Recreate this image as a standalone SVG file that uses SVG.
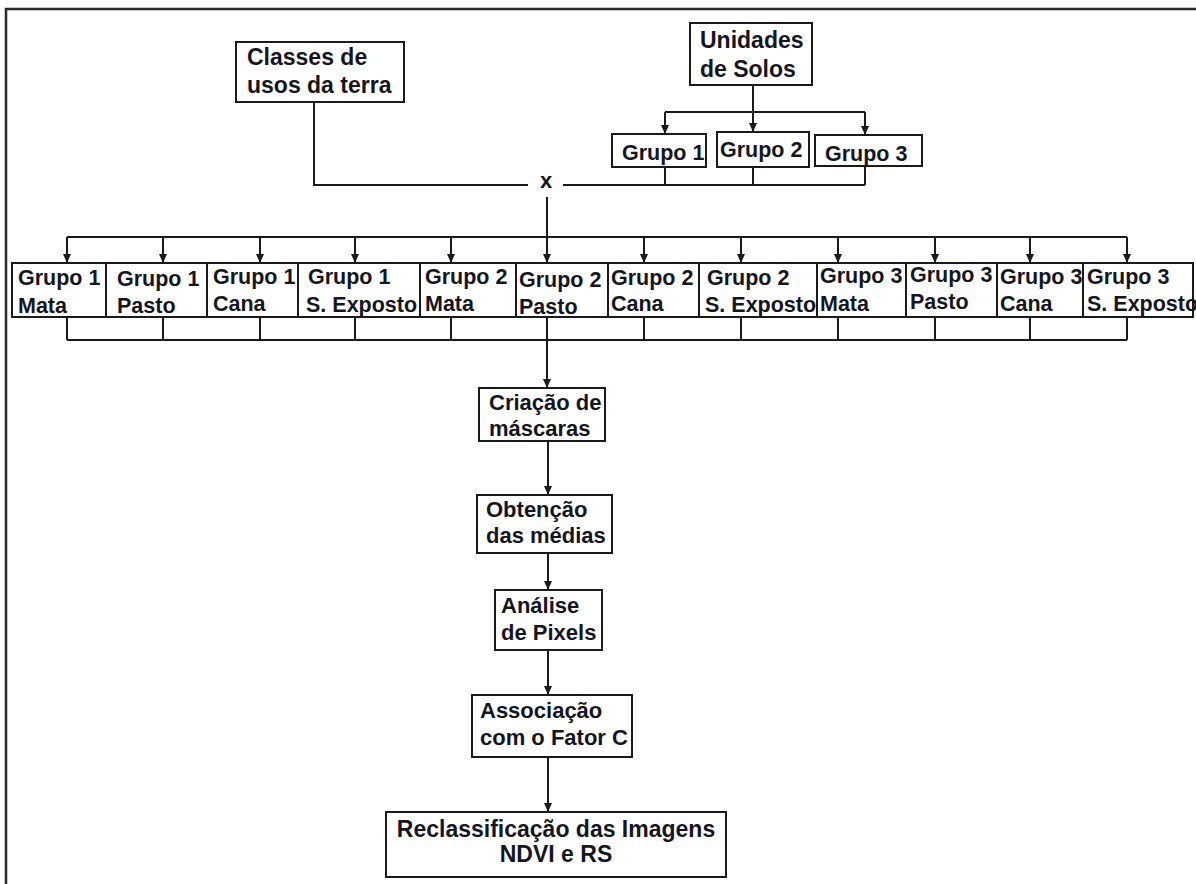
<svg xmlns="http://www.w3.org/2000/svg" width="1196" height="884" viewBox="0 0 1196 884">
<defs>
<marker id="ah" markerUnits="userSpaceOnUse" markerWidth="9" markerHeight="8" refX="9" refY="4" orient="auto">
<path d="M0,0 L9,4 L0,8 z" fill="#1a1a1a"/>
</marker>
<style>
.box{fill:#fff;stroke:#1a1a1a;stroke-width:2}
.t{font-family:"Liberation Sans",Arial,sans-serif;font-weight:bold;font-size:22px;fill:#151520}
.s{font-size:21.5px}
.b{font-size:23px}
.ln{fill:none;stroke:#1a1a1a;stroke-width:2}
.ar{fill:none;stroke:#1a1a1a;stroke-width:2;marker-end:url(#ah)}
</style>
</defs>
<rect x="0" y="0" width="1196" height="884" fill="#fff"/>
<path d="M6,884 V9 H1196" fill="none" stroke="#2a2a2a" stroke-width="2.5"/>

<g id="connectors">
<path class="ln" d="M314,102 V185 H528"/>
<path class="ln" d="M563,185 H865"/>
<path class="ln" d="M753,85 V112"/>
<path class="ln" d="M665,112 H865"/>
<path class="ar" d="M665,112 V134"/>
<path class="ar" d="M753,112 V132"/>
<path class="ar" d="M865,112 V135"/>
<path class="ln" d="M665,167 V185 M753,167 V185 M865,166 V185"/>
<path class="ln" d="M547,197 V237 M67,237 H1127"/>
<path class="ar" d="M67,237 V263"/>
<path class="ar" d="M163,237 V263"/>
<path class="ar" d="M260,237 V263"/>
<path class="ar" d="M355,237 V263"/>
<path class="ar" d="M451,237 V263"/>
<path class="ar" d="M547,237 V263"/>
<path class="ar" d="M644,237 V263"/>
<path class="ar" d="M741,237 V263"/>
<path class="ar" d="M838,237 V263"/>
<path class="ar" d="M935,237 V263"/>
<path class="ar" d="M1030,237 V263"/>
<path class="ar" d="M1127,237 V263"/>
<path class="ln" d="M67,317 V340 M163,317 V340 M260,317 V340 M355,317 V340 M451,317 V340 M547,317 V340 M644,317 V340 M741,317 V340 M838,317 V340 M935,317 V340 M1030,317 V340 M1127,317 V340 M67,340 H1127"/>
<path class="ar" d="M547,340 V388"/>
<path class="ar" d="M548,441 V495"/>
<path class="ar" d="M548,553 V590"/>
<path class="ar" d="M548,650 V695"/>
<path class="ar" d="M548,757 V812"/>
</g>

<text class="t" x="540" y="188">x</text>

<g id="classes">
<rect class="box" x="236" y="42" width="168" height="60"/>
<text class="t b" x="247" y="65">Classes de</text>
<text class="t b" x="247" y="93">usos da terra</text>
</g>
<g id="unidades">
<rect class="box" x="690" y="23" width="122" height="62"/>
<text class="t b" x="700" y="48">Unidades</text>
<text class="t b" x="700" y="77">de Solos</text>
</g>
<g id="g1">
<rect class="box" x="612" y="134" width="94" height="33"/>
<text class="t s" x="622" y="160">Grupo 1</text>
</g>
<g id="g2">
<rect class="box" x="717" y="132" width="92" height="35"/>
<text class="t s" x="720" y="157">Grupo 2</text>
</g>
<g id="g3">
<rect class="box" x="815" y="135" width="107" height="31"/>
<text class="t s" x="825" y="161">Grupo 3</text>
</g>

<g id="r1"><rect class="box" x="12" y="263" width="94" height="54"/><text class="t s" x="18" y="285">Grupo 1</text><text class="t s" x="18" y="313">Mata</text></g>
<g id="r2"><rect class="box" x="106" y="263" width="101" height="54"/><text class="t s" x="117" y="286">Grupo 1</text><text class="t s" x="117" y="313">Pasto</text></g>
<g id="r3"><rect class="box" x="207" y="263" width="91" height="54"/><text class="t s" x="213" y="284">Grupo 1</text><text class="t s" x="213" y="311">Cana</text></g>
<g id="r4"><rect class="box" x="298" y="263" width="122" height="54"/><text class="t s" x="308" y="284">Grupo 1</text><text class="t s" x="306" y="312">S. Exposto</text></g>
<g id="r5"><rect class="box" x="420" y="263" width="96" height="54"/><text class="t s" x="425" y="284">Grupo 2</text><text class="t s" x="425" y="311">Mata</text></g>
<g id="r6"><rect class="box" x="516" y="263" width="92" height="54"/><text class="t s" x="519" y="287">Grupo 2</text><text class="t s" x="519" y="314">Pasto</text></g>
<g id="r7"><rect class="box" x="608" y="263" width="91" height="54"/><text class="t s" x="611" y="285">Grupo 2</text><text class="t s" x="611" y="311">Cana</text></g>
<g id="r8"><rect class="box" x="699" y="263" width="118" height="54"/><text class="t s" x="707" y="285">Grupo 2</text><text class="t s" x="705" y="312">S. Exposto</text></g>
<g id="r9"><rect class="box" x="817" y="263" width="89" height="54"/><text class="t s" x="820" y="283">Grupo 3</text><text class="t s" x="820" y="311">Mata</text></g>
<g id="r10"><rect class="box" x="906" y="263" width="91" height="54"/><text class="t s" x="910" y="282">Grupo 3</text><text class="t s" x="910" y="309">Pasto</text></g>
<g id="r11"><rect class="box" x="997" y="263" width="86" height="54"/><text class="t s" x="1000" y="284">Grupo 3</text><text class="t s" x="1000" y="311">Cana</text></g>
<g id="r12"><rect class="box" x="1083" y="263" width="110" height="54"/><text class="t s" x="1087" y="284">Grupo 3</text><text class="t s" x="1087" y="311">S. Exposto</text></g>

<g id="criacao">
<rect class="box" x="479" y="388" width="126" height="53"/>
<text class="t" x="489" y="410">Criação de</text>
<text class="t" x="489" y="436">máscaras</text>
</g>
<g id="obtencao">
<rect class="box" x="477" y="495" width="135" height="58"/>
<text class="t" x="486" y="517">Obtenção</text>
<text class="t" x="486" y="543">das médias</text>
</g>
<g id="analise">
<rect class="box" x="495" y="590" width="107" height="60"/>
<text class="t" x="501" y="613">Análise</text>
<text class="t" x="501" y="640">de Pixels</text>
</g>
<g id="associacao">
<rect class="box" x="472" y="695" width="160" height="62"/>
<text class="t" x="480" y="718">Associação</text>
<text class="t" x="480" y="745">com o Fator C</text>
</g>
<g id="reclass">
<rect class="box" x="386" y="812" width="340" height="65"/>
<text class="t b" x="556" y="837" text-anchor="middle">Reclassificação das Imagens</text>
<text class="t b" x="556" y="862" text-anchor="middle">NDVI e RS</text>
</g>
</svg>
